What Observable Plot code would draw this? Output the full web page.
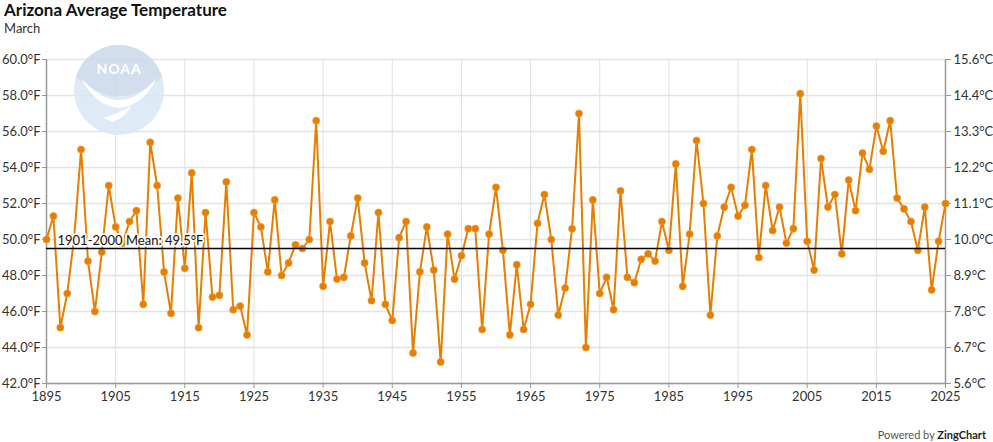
<!DOCTYPE html>
<html>
<head>
<meta charset="utf-8">
<script src="https://cdn.jsdelivr.net/npm/d3@7"></script>
<script src="https://cdn.jsdelivr.net/npm/@observablehq/plot@0.6"></script>
<style>
  html, body { margin: 0; padding: 0; background: #fff; }
  body { width: 993px; height: 442px; position: relative; overflow: hidden; font-family: Lato, "Noto Sans", sans-serif; }
  #title { position: absolute; left: 4px; top: 1px; font-size: 17px; font-weight: 700; color: #111; line-height: 18px; }
  #subtitle { position: absolute; left: 4px; top: 20px; font-size: 13px; color: #333; line-height: 16px; }
  #chart { position: absolute; left: 0; top: 38px; }
  #credit { position: absolute; right: 7px; top: 428px; font-size: 11px; color: #555; }
  #credit b { color: #222; }
</style>
</head>
<body>
<div id="title">Arizona Average Temperature</div>
<div id="subtitle">March</div>
<div id="chart"></div>
<div id="credit">Powered by <b>ZingChart</b></div>
<script>
// ---- data ----
const firstYear = 1895;
const lastYear = 2025;
const temps = [
  50.0, 51.3, 45.1, 47.0, 50.1, 55.0, 48.8, 46.0, 49.3, 53.0,  // 1895-1904
  50.7, 49.8, 51.0, 51.6, 46.4, 55.4, 53.0, 48.2, 45.9, 52.3,  // 1905-1914
  48.4, 53.7, 45.1, 51.5, 46.8, 46.9, 53.2, 46.1, 46.3, 44.7,  // 1915-1924
  51.5, 50.7, 48.2, 52.2, 48.0, 48.7, 49.7, 49.5, 50.0, 56.6,  // 1925-1934
  47.4, 51.0, 47.8, 47.9, 50.2, 52.3, 48.7, 46.6, 51.5, 46.4,  // 1935-1944
  45.5, 50.1, 51.0, 43.7, 48.2, 50.7, 48.3, 43.2, 50.3, 47.8,  // 1945-1954
  49.1, 50.6, 50.6, 45.0, 50.3, 52.9, 49.4, 44.7, 48.6, 45.0,  // 1955-1964
  46.4, 50.9, 52.5, 50.0, 45.8, 47.3, 50.6, 57.0, 44.0, 52.2,  // 1965-1974
  47.0, 47.9, 46.1, 52.7, 47.9, 47.6, 48.9, 49.2, 48.8, 51.0,  // 1975-1984
  49.4, 54.2, 47.4, 50.3, 55.5, 52.0, 45.8, 50.2, 51.8, 52.9,  // 1985-1994
  51.3, 51.9, 55.0, 49.0, 53.0, 50.5, 51.8, 49.8, 50.6, 58.1,  // 1995-2004
  49.9, 48.3, 54.5, 51.8, 52.5, 49.2, 53.3, 51.6, 54.8, 53.9,  // 2005-2014
  56.3, 54.9, 56.6, 52.3, 51.7, 51.0, 49.4, 51.8, 47.2, 49.9,  // 2015-2024
  52.0                                                          // 2025
];
const years = d3.range(firstYear, lastYear + 1);
const meanValue = 49.5;
const meanLabel = "1901-2000 Mean: 49.5°F";
const yTicks = [42, 44, 46, 48, 50, 52, 54, 56, 58, 60];
const xTicks = [1895, 1905, 1915, 1925, 1935, 1945, 1955, 1965, 1975, 1985, 1995, 2005, 2015, 2025];

const data = years.map((y, i) => ({year: y, temp: temps[i]}));
const orange = "#e67e00";
const fToC = f => ((f - 32) * 5 / 9).toFixed(1) + "°C";

const chart = Plot.plot({
  width: 993,
  height: 382,
  marginLeft: 46,
  marginRight: 48,
  marginTop: 21,
  marginBottom: 37,
  style: {fontFamily: "Lato, 'Noto Sans', sans-serif", fontSize: "13px", color: "#333", background: "transparent"},
  x: {domain: [firstYear, lastYear]},
  y: {domain: [42, 60]},
  marks: [
    Plot.gridY(yTicks, {stroke: "#e3e3e3", strokeOpacity: 1, strokeWidth: 1.5}),
    Plot.gridX(xTicks, {stroke: "#e0e0e0", strokeOpacity: 1, strokeWidth: 1}),
    Plot.axisY(yTicks, {anchor: "left", tickFormat: d => d.toFixed(1) + "°F", tickSize: 4, tickPadding: 2, stroke: "#999", label: null, fontSize: 13}),
    Plot.axisY(yTicks, {anchor: "right", tickFormat: fToC, tickSize: 5, tickPadding: 3, stroke: "#999", label: null, fontSize: 13}),
    Plot.axisX(xTicks, {tickFormat: d => String(d), tickSize: 5, tickPadding: 3, stroke: "#999", label: null, fontSize: 13}),
    Plot.ruleX([firstYear, lastYear], {stroke: "#999", strokeWidth: 1.5}),
    Plot.ruleY([42], {stroke: "#999", strokeWidth: 1.5}),
    Plot.line(data, {x: "year", y: "temp", stroke: orange, strokeWidth: 2}),
    Plot.dot(data, {x: "year", y: "temp", r: 3.6, fill: orange, stroke: "#f0a040", strokeWidth: 0.6}),
    Plot.ruleY([meanValue], {stroke: "#000", strokeWidth: 1.6}),
    Plot.text([meanLabel], {x: firstYear, y: meanValue, text: d => d, textAnchor: "start", dx: 11, dy: -8, fill: "#111", fontSize: 13, stroke: "rgba(255,255,255,0.85)", strokeWidth: 4})
  ]
});
document.getElementById("chart").appendChild(chart);

// NOAA watermark (decorative)
const logo = `
<svg id="logo" width="92" height="92" viewBox="0 0 92 92" xmlns="http://www.w3.org/2000/svg" style="position:absolute;left:73px;top:44px;opacity:0.85">
  <defs><clipPath id="c"><circle cx="46" cy="46" r="45"/></clipPath></defs>
  <circle cx="46" cy="46" r="45" fill="#d9e7f5"/>
  <g clip-path="url(#c)">
    <path d="M0 0 H92 V30 Q70 52 46 52 Q22 52 0 30 Z" fill="#cbd9ea"/>
    <path d="M8 34 Q28 56 46 56 Q64 56 84 34 Q70 62 46 64 Q22 62 8 34 Z" fill="#ffffff"/>
    <path d="M30 74 Q44 70 58 62 Q54 72 40 78 Z" fill="#ffffff"/>
  </g>
  <text x="46" y="30" text-anchor="middle" font-family="Lato, sans-serif" font-weight="700" font-size="14" fill="#ffffff" letter-spacing="1">NOAA</text>
</svg>`;
document.body.insertAdjacentHTML("beforeend", logo);
</script>
</body>
</html>
